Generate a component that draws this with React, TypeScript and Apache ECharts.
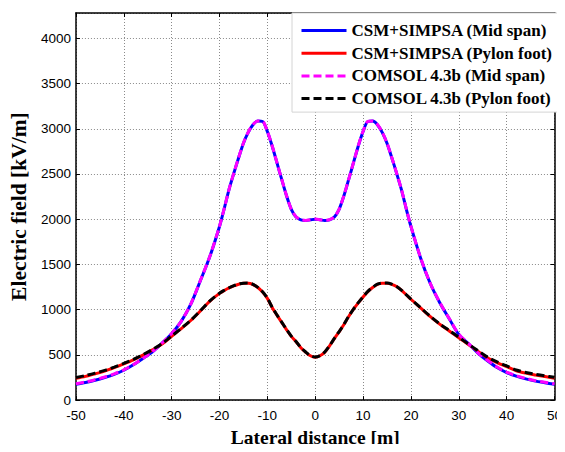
import React, { useEffect, useRef } from "react";
import * as echarts from "echarts";

// Lateral distance (m)
const xs: number[] = [
  -50, -48, -46, -44, -42, -40, -38, -36, -34, -32, -30, -28, -26, -24, -22, -20,
  -19, -18, -17, -16, -15, -14, -13, -12, -11, -10, -9, -8, -7, -6, -5, -4, -3, -2, -1,
  0,
  1, 2, 3, 4, 5, 6, 7, 8, 9, 10, 11, 12, 13, 14, 15, 16, 17, 18, 19,
  20, 22, 24, 26, 28, 30, 32, 34, 36, 38, 40, 42, 44, 46, 48, 50,
];

// CSM+SIMPSA (Mid span) kV/m
const csmMid: number[] = [
  175, 195, 220, 250, 285, 330, 390, 460, 535, 630, 735, 870, 1060, 1320, 1590, 1920,
  2120, 2330, 2510, 2680, 2840, 2960, 3045, 3085, 3080, 2970, 2810, 2625, 2440, 2260, 2110, 2025, 1993, 1985, 1993,
  2000,
  1993, 1985, 1993, 2025, 2110, 2260, 2440, 2625, 2810, 2970, 3080, 3085, 3045, 2960, 2840, 2680, 2510, 2330, 2120,
  1920, 1575, 1295, 1080, 900, 725, 625, 520, 435, 360, 305, 265, 235, 210, 192, 175,
];

// CSM+SIMPSA (Pylon foot) kV/m
const csmPylon: number[] = [
  240, 262, 290, 320, 358, 400, 445, 497, 555, 620, 705, 790, 880, 985, 1095, 1180,
  1212, 1240, 1263, 1281, 1291, 1292, 1278, 1245, 1195, 1125, 1025, 940, 860, 780, 705, 645, 580, 530, 490,
  475,
  490, 530, 600, 680, 755, 835, 925, 1005, 1075, 1140, 1200, 1245, 1280, 1292, 1292, 1280, 1255, 1215, 1165,
  1115, 1020, 925, 840, 765, 690, 615, 540, 468, 415, 370, 325, 298, 278, 260, 242,
];

// COMSOL 4.3b (Mid span) kV/m
const comsolMid: number[] = [
  180, 200, 225, 255, 290, 335, 392, 462, 537, 632, 737, 872, 1062, 1322, 1592, 1922,
  2122, 2332, 2512, 2682, 2842, 2962, 3047, 3087, 3082, 2972, 2812, 2627, 2442, 2262, 2112, 2027, 1995, 1987, 1995,
  2002,
  1995, 1987, 1995, 2027, 2112, 2262, 2442, 2627, 2812, 2972, 3082, 3087, 3047, 2962, 2842, 2682, 2512, 2332, 2122,
  1922, 1577, 1297, 1082, 902, 728, 628, 523, 440, 365, 310, 270, 240, 215, 197, 180,
];

// COMSOL 4.3b (Pylon foot) kV/m
const comsolPylon: number[] = [
  250, 272, 298, 328, 365, 406, 450, 502, 560, 625, 708, 793, 882, 987, 1097, 1182,
  1214, 1242, 1265, 1283, 1293, 1294, 1280, 1247, 1197, 1127, 1027, 942, 862, 782, 707, 647, 582, 532, 492,
  477,
  492, 532, 602, 682, 757, 837, 927, 1007, 1077, 1142, 1202, 1247, 1282, 1294, 1294, 1282, 1257, 1217, 1167,
  1117, 1022, 928, 843, 770, 695, 620, 546, 475, 422, 378, 333, 306, 286, 268, 252,
];

const seriesNames = [
  "CSM+SIMPSA (Mid span)",
  "CSM+SIMPSA (Pylon foot)",
  "COMSOL 4.3b (Mid span)",
  "COMSOL 4.3b (Pylon foot)",
];

const toPairs = (ys: number[]) => xs.map((x, i) => [x, ys[i]]);

export default function App() {
  const ref = useRef<HTMLDivElement>(null);

  useEffect(() => {
    if (!ref.current) return;
    const chart = echarts.init(ref.current, undefined, { renderer: "svg" });
    const tickFont = { fontFamily: "Liberation Sans", fontSize: 13.5, color: "#000" };
    const gridLine = { show: true, lineStyle: { color: "#8a8a8a", type: [1, 2] as any, width: 1 } };
    const axisLine = { show: true, onZero: false, lineStyle: { color: "#000", width: 1.5 } };
    const axisTick = { show: true, inside: true, length: 4, lineStyle: { color: "#000", width: 1 } };
    const titleFont = {
      fontFamily: "Liberation Serif",
      fontWeight: "bold" as const,
      color: "#000",
    };

    chart.setOption({
      animation: false,
      backgroundColor: "#fff",
      grid: { left: 74, right: 7, top: 13, bottom: 47, containLabel: false },
      xAxis: [
        {
          type: "value",
          min: -50,
          max: 50,
          interval: 10,
          position: "bottom",
          axisLine,
          axisTick,
          splitLine: gridLine,
          axisLabel: { ...tickFont, margin: 8, formatter: (v: number) => String(v) },
          name: "Lateral distance [m]",
          nameLocation: "middle",
          nameGap: 25,
          nameTextStyle: { ...titleFont, fontSize: 19.5 },
        },
        {
          type: "value",
          min: -50,
          max: 50,
          interval: 10,
          position: "top",
          axisLine,
          axisTick,
          splitLine: { show: false },
          axisLabel: { show: false },
        },
      ],
      yAxis: [
        {
          type: "value",
          min: 0,
          max: 4280,
          interval: 500,
          position: "left",
          axisLine,
          axisTick,
          splitLine: gridLine,
          axisLabel: {
            ...tickFont,
            margin: 5,
            showMaxLabel: false,
            formatter: (v: number) => String(v),
          },
          name: "Electric field [kV/m]",
          nameLocation: "middle",
          nameGap: 42,
          nameRotate: 90,
          nameTextStyle: { ...titleFont, fontSize: 21.5 },
        },
        {
          type: "value",
          min: 0,
          max: 4280,
          interval: 500,
          position: "right",
          axisLine,
          axisTick,
          splitLine: { show: false },
          axisLabel: { show: false },
        },
      ],
      legend: {
        orient: "vertical",
        left: 292,
        top: 13,
        data: seriesNames,
        itemWidth: 45,
        itemHeight: 14,
        itemGap: 5.7,
        padding: [9, 12, 5, 8],
        backgroundColor: "#fff",
        borderColor: "#d4d4d4",
        borderWidth: 1,
        borderRadius: 0,
        itemStyle: { opacity: 0 },
        lineStyle: { width: 3 },
        textStyle: {
          fontFamily: "Liberation Serif",
          fontWeight: "bold",
          fontSize: 17,
          lineHeight: 17,
          color: "#000",
        },
      },
      series: [
        {
          name: seriesNames[0],
          type: "line",
          data: toPairs(csmMid),
          smooth: 0.3,
          symbol: "none",
          lineStyle: { color: "#0000ff", width: 3 },
          itemStyle: { color: "#0000ff" },
          z: 2,
        },
        {
          name: seriesNames[1],
          type: "line",
          data: toPairs(csmPylon),
          smooth: 0.3,
          symbol: "none",
          lineStyle: { color: "#ff0000", width: 3 },
          itemStyle: { color: "#ff0000" },
          z: 2,
        },
        {
          name: seriesNames[2],
          type: "line",
          data: toPairs(comsolMid),
          smooth: 0.3,
          symbol: "none",
          lineStyle: { color: "#ff00ff", width: 3, type: [8, 4] },
          itemStyle: { color: "#ff00ff" },
          z: 3,
        },
        {
          name: seriesNames[3],
          type: "line",
          data: toPairs(comsolPylon),
          smooth: 0.3,
          symbol: "none",
          lineStyle: { color: "#000000", width: 3, type: [8, 4] },
          itemStyle: { color: "#000000" },
          z: 3,
        },
      ],
    });
    return () => chart.dispose();
  }, []);

  return <div ref={ref} style={{ width: 565, height: 452, margin: -8 }} />;
}
